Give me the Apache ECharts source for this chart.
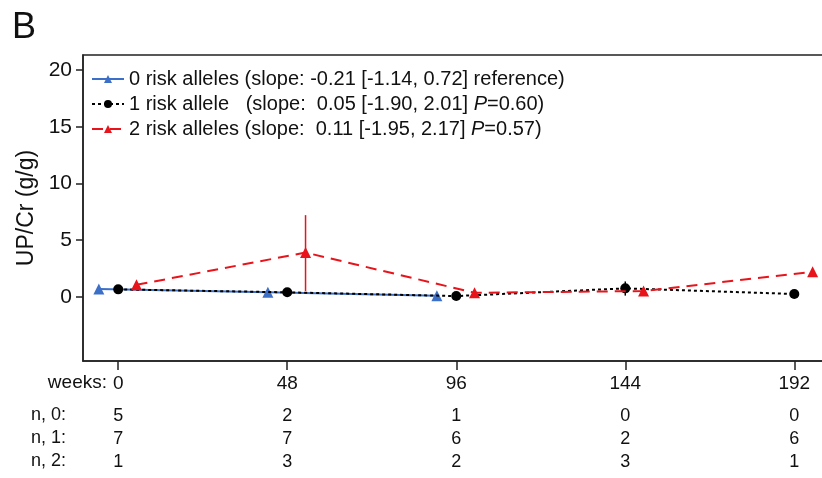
<!DOCTYPE html>
<html>
<head>
<meta charset="utf-8">
<script src="https://cdn.jsdelivr.net/npm/echarts@6/dist/echarts.min.js"></script>
<style>
html,body{margin:0;padding:0;background:#fff;}
#chart{width:822px;height:478px;}
</style>
</head>
<body>
<div id="chart"></div>
<script>
// ---- data ----
const weeks = [0, 48, 96, 144, 192];
const seriesNames = ['0 risk alleles', '1 risk allele', '2 risk alleles'];
const legendTexts = [
  '0 risk alleles (slope: -0.21 [-1.14, 0.72] reference)',
  '1 risk allele   (slope:  0.05 [-1.90, 2.01] {i|P}=0.60)',
  '2 risk alleles (slope:  0.11 [-1.95, 2.17] {i|P}=0.57)'
];
// x positions (weeks, dodged per group)
const x0 = [-5.5, 42.5, 90.5];
const y0 = [0.68, 0.39, 0.09];
const x1 = [0, 48, 96, 144, 192];
const y1 = [0.65, 0.39, 0.06, 0.74, 0.24];
const x2 = [5.2, 53.2, 101.2, 149.2, 197.2];
const y2 = [1.05, 3.9, 0.35, 0.5, 2.2];
// error bars [x, low, high]
const err0 = [[-5.5, 0.45, 0.95]];
const err1 = [[144, 0.1, 1.35]];
const err2 = [[53.2, 0.5, 7.2]];
// table of counts
const n0 = [5, 2, 1, 0, 0];
const n1 = [7, 7, 6, 2, 6];
const n2 = [1, 3, 2, 3, 1];
const rowLabels = ['n, 0:', 'n, 1:', 'n, 2:'];
const yTicks = [0, 5, 10, 15, 20];

const BLUE = '#3c6fc8', BLACK = '#000', RED = '#e8141b';
const FONT = '"Liberation Sans", Arial, sans-serif';
const NARROW = '"Liberation Sans Narrow", "Arial Narrow", "Liberation Sans", Arial, sans-serif';

const chart = echarts.init(document.getElementById('chart'));

function pairs(xs, ys) { return xs.map((x, i) => [x, ys[i]]); }
function errSeries(data, color) {
  return {
    type: 'custom', data: data, silent: true, z: 1,
    encode: { x: 0, y: [1, 2] },
    renderItem: function (params, api) {
      const p1 = api.coord([api.value(0), api.value(1)]);
      const p2 = api.coord([api.value(0), api.value(2)]);
      return { type: 'line', shape: { x1: p1[0], y1: p1[1], x2: p2[0], y2: p2[1] },
               style: { stroke: color, lineWidth: 1.5 } };
    }
  };
}
function countAxis(counts, offset) {
  return {
    type: 'value', min: -10, max: 202, position: 'bottom', offset: offset,
    axisLine: { show: false, onZero: false }, axisTick: { show: false }, splitLine: { show: false },
    axisLabel: {
      customValues: weeks, margin: 12,
      fontFamily: NARROW, fontSize: 18, color: '#111',
      formatter: function (v) { const i = weeks.indexOf(v); return i >= 0 ? String(counts[i]) : ''; }
    }
  };
}

const option = {
  backgroundColor: '#fff',
  animation: false,
  textStyle: { fontFamily: FONT },
  grid: { left: 83, top: 55, width: 746.5, height: 306, show: true, borderColor: '#222', borderWidth: 1.5,
          backgroundColor: 'transparent', containLabel: false, outerBoundsMode: 'none' },
  legend: {
    data: seriesNames, orient: 'vertical', left: 86, top: 64, itemGap: 5,
    itemWidth: 32, itemHeight: 10, padding: [5, 5, 5, 5],
    formatter: function (name) { return legendTexts[seriesNames.indexOf(name)]; },
    textStyle: { fontSize: 20, color: '#111', fontFamily: FONT,
      rich: { i: { fontStyle: 'italic', fontSize: 20, color: '#111', fontFamily: FONT } } }
  },
  xAxis: [
    {
      type: 'value', min: -10, max: 202, position: 'bottom',
      axisLine: { show: true, onZero: false, lineStyle: { color: '#222', width: 1.5 } },
      axisTick: { show: true, customValues: weeks, length: 9, lineStyle: { color: '#222', width: 1.5 } },
      axisLabel: { customValues: weeks, margin: 13, fontSize: 19, color: '#111', fontFamily: NARROW },
      splitLine: { show: false }
    },
    countAxis(n0, 34),
    countAxis(n1, 57),
    countAxis(n2, 80)
  ],
  yAxis: {
    type: 'value', min: -5.67, max: 21.33,
    name: 'UP/Cr (g/g)', nameLocation: 'middle', nameGap: 40,
    nameTextStyle: { fontSize: 23, color: '#111', fontFamily: FONT },
    axisLine: { show: true, onZero: false, lineStyle: { color: '#222', width: 1.5 } },
    axisTick: { show: true, customValues: yTicks, length: 7, lineStyle: { color: '#222', width: 1.5 } },
    axisLabel: { customValues: yTicks, margin: 11, fontSize: 21, color: '#111', fontFamily: FONT },
    splitLine: { show: false }
  },
  graphic: [
    { type: 'text', left: 12, top: 10, style: { text: 'B', fontSize: 36, fill: '#111', fontFamily: FONT } },
    { type: 'text', right: 822 - 107, top: 373, style: { text: 'weeks:', fontSize: 19, fill: '#111', fontFamily: NARROW } },
    { type: 'text', right: 822 - 66, top: 406, style: { text: rowLabels[0], fontSize: 18, fill: '#111', fontFamily: NARROW } },
    { type: 'text', right: 822 - 66, top: 429, style: { text: rowLabels[1], fontSize: 18, fill: '#111', fontFamily: NARROW } },
    { type: 'text', right: 822 - 66, top: 452, style: { text: rowLabels[2], fontSize: 18, fill: '#111', fontFamily: NARROW } }
  ],
  series: [
    errSeries(err0, BLUE),
    errSeries(err1, BLACK),
    errSeries(err2, RED),
    { name: seriesNames[0], type: 'line', data: pairs(x0, y0), symbol: 'triangle', symbolSize: 11, z: 2,
      itemStyle: { color: BLUE }, lineStyle: { color: BLUE, width: 2, type: 'solid' } },
    { name: seriesNames[1], type: 'line', data: pairs(x1, y1), symbol: 'circle', symbolSize: 10, z: 3,
      itemStyle: { color: BLACK }, lineStyle: { color: BLACK, width: 2, type: [3, 3] } },
    { name: seriesNames[2], type: 'line', data: pairs(x2, y2), symbol: 'triangle', symbolSize: 11, z: 4,
      itemStyle: { color: RED }, lineStyle: { color: RED, width: 2, type: [11, 7] } }
  ]
};
chart.setOption(option);
</script>
</body>
</html>
